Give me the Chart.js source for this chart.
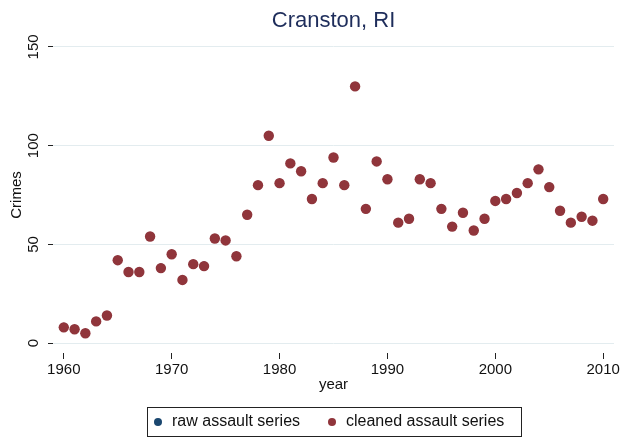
<!DOCTYPE html>
<html>
<head>
<meta charset="utf-8">
<script src="https://cdn.jsdelivr.net/npm/chart.js@4"></script>
<style>
  html, body { margin: 0; padding: 0; background: #fff; }
  canvas { display: block; }
</style>
</head>
<body>
<canvas id="crimeChart" width="625" height="437"></canvas>
<script>
// data
const years = [1960, 1961, 1962, 1963, 1964, 1965, 1966, 1967, 1968, 1969,
  1970, 1971, 1972, 1973, 1974, 1975, 1976, 1977, 1978, 1979,
  1980, 1981, 1982, 1983, 1984, 1985, 1986, 1987, 1988, 1989,
  1990, 1991, 1992, 1993, 1994, 1995, 1996, 1997, 1998, 1999,
  2000, 2001, 2002, 2003, 2004, 2005, 2006, 2007, 2008, 2009, 2010];
const cleanedAssault = [8, 7, 5, 11, 14, 42, 36, 36, 54, 38,
  45, 32, 40, 39, 53, 52, 44, 65, 80, 105,
  81, 91, 87, 73, 81, 94, 80, 130, 68, 92,
  83, 61, 63, 83, 81, 68, 59, 66, 57, 63,
  72, 73, 76, 81, 88, 79, 67, 61, 64, 62, 73];
// raw series sits right under the cleaned one (no navy dots visible)
const rawAssault = cleanedAssault.slice();
const xTicks = [1960, 1970, 1980, 1990, 2000, 2010];
const yTicks = [0, 50, 100, 150];

const FONT = "'Liberation Sans', Arial, Helvetica, sans-serif";
const NAVY = '#1a476f';
const MAROON = '#90353b';

function toPoints(vals) {
  return years.map((y, i) => ({ x: y, y: vals[i] }));
}

// title centred over the plot area, like Stata does
const titlePlugin = {
  id: 'stataTitle',
  afterDraw(chart) {
    const c = chart.ctx, a = chart.chartArea;
    c.save();
    c.font = '22px ' + FONT;
    c.fillStyle = '#1e2d5b';
    c.textAlign = 'center';
    c.textBaseline = 'middle';
    c.fillText('Cranston, RI', (a.left + a.right) / 2, 21);
    c.restore();
  }
};

// boxed legend under the x axis
const boxLegend = {
  id: 'boxLegend',
  afterDraw(chart) {
    const c = chart.ctx;
    c.save();
    c.strokeStyle = '#222';
    c.lineWidth = 1;
    c.strokeRect(147.5, 407.5, 374, 29);
    c.font = '16px ' + FONT;
    c.textBaseline = 'middle';
    c.textAlign = 'left';
    const xs = [158, 332];
    chart.data.datasets.forEach((ds, i) => {
      c.fillStyle = ds.backgroundColor;
      c.beginPath();
      c.arc(xs[i], 422, 4, 0, Math.PI * 2);
      c.fill();
      c.fillStyle = '#111';
      c.fillText(ds.label, xs[i] + 14, 422);
    });
    c.restore();
  }
};

const ctx = document.getElementById('crimeChart').getContext('2d');
const crimeChart = new Chart(ctx, {
  type: 'scatter',
  data: {
    datasets: [{
      label: 'raw assault series',
      data: toPoints(rawAssault),
      backgroundColor: NAVY,
      borderColor: NAVY,
      pointRadius: 4.5,
      borderWidth: 0,
      order: 2
    }, {
      label: 'cleaned assault series',
      data: toPoints(cleanedAssault),
      backgroundColor: MAROON,
      borderColor: MAROON,
      pointRadius: 5.2,
      borderWidth: 0,
      order: 1
    }]
  },
  options: {
    responsive: false,
    animation: false,
    layout: { padding: { top: 37, right: 11, bottom: 42, left: 0 } },
    plugins: {
      legend: { display: false },
      tooltip: { enabled: false }
    },
    scales: {
      x: {
        type: 'linear',
        min: 1959,
        max: 2011,
        afterBuildTicks: (s) => { s.ticks = xTicks.map(v => ({ value: v })); },
        afterFit: (s) => { s.height = 42; },
        border: { display: false },
        grid: { display: true, drawOnChartArea: false, drawTicks: true, tickLength: 6, tickColor: '#222' },
        ticks: { color: '#111', font: { family: FONT, size: 15 }, padding: 2, maxRotation: 0,
          callback: (v) => String(v) },
        title: { display: true, text: 'year', color: '#111', font: { family: FONT, size: 15 }, padding: { top: 0, bottom: 1 } }
      },
      y: {
        type: 'linear',
        min: -5,
        max: 155,
        afterBuildTicks: (s) => { s.ticks = yTicks.map(v => ({ value: v })); },
        afterFit: (s) => { s.width = 53; },
        border: { display: false },
        grid: { color: '#e3ecef', lineWidth: 1, drawTicks: true, tickLength: 5, tickColor: '#222' },
        ticks: { color: '#111', font: { family: FONT, size: 15 }, padding: 2, minRotation: 90, maxRotation: 90, crossAlign: 'center',
          callback: (v) => String(v) },
        title: { display: true, text: 'Crimes', color: '#111', font: { family: FONT, size: 15 }, padding: { top: 8, bottom: 0 } }
      }
    }
  },
  plugins: [titlePlugin, boxLegend]
});
</script>
</body>
</html>
